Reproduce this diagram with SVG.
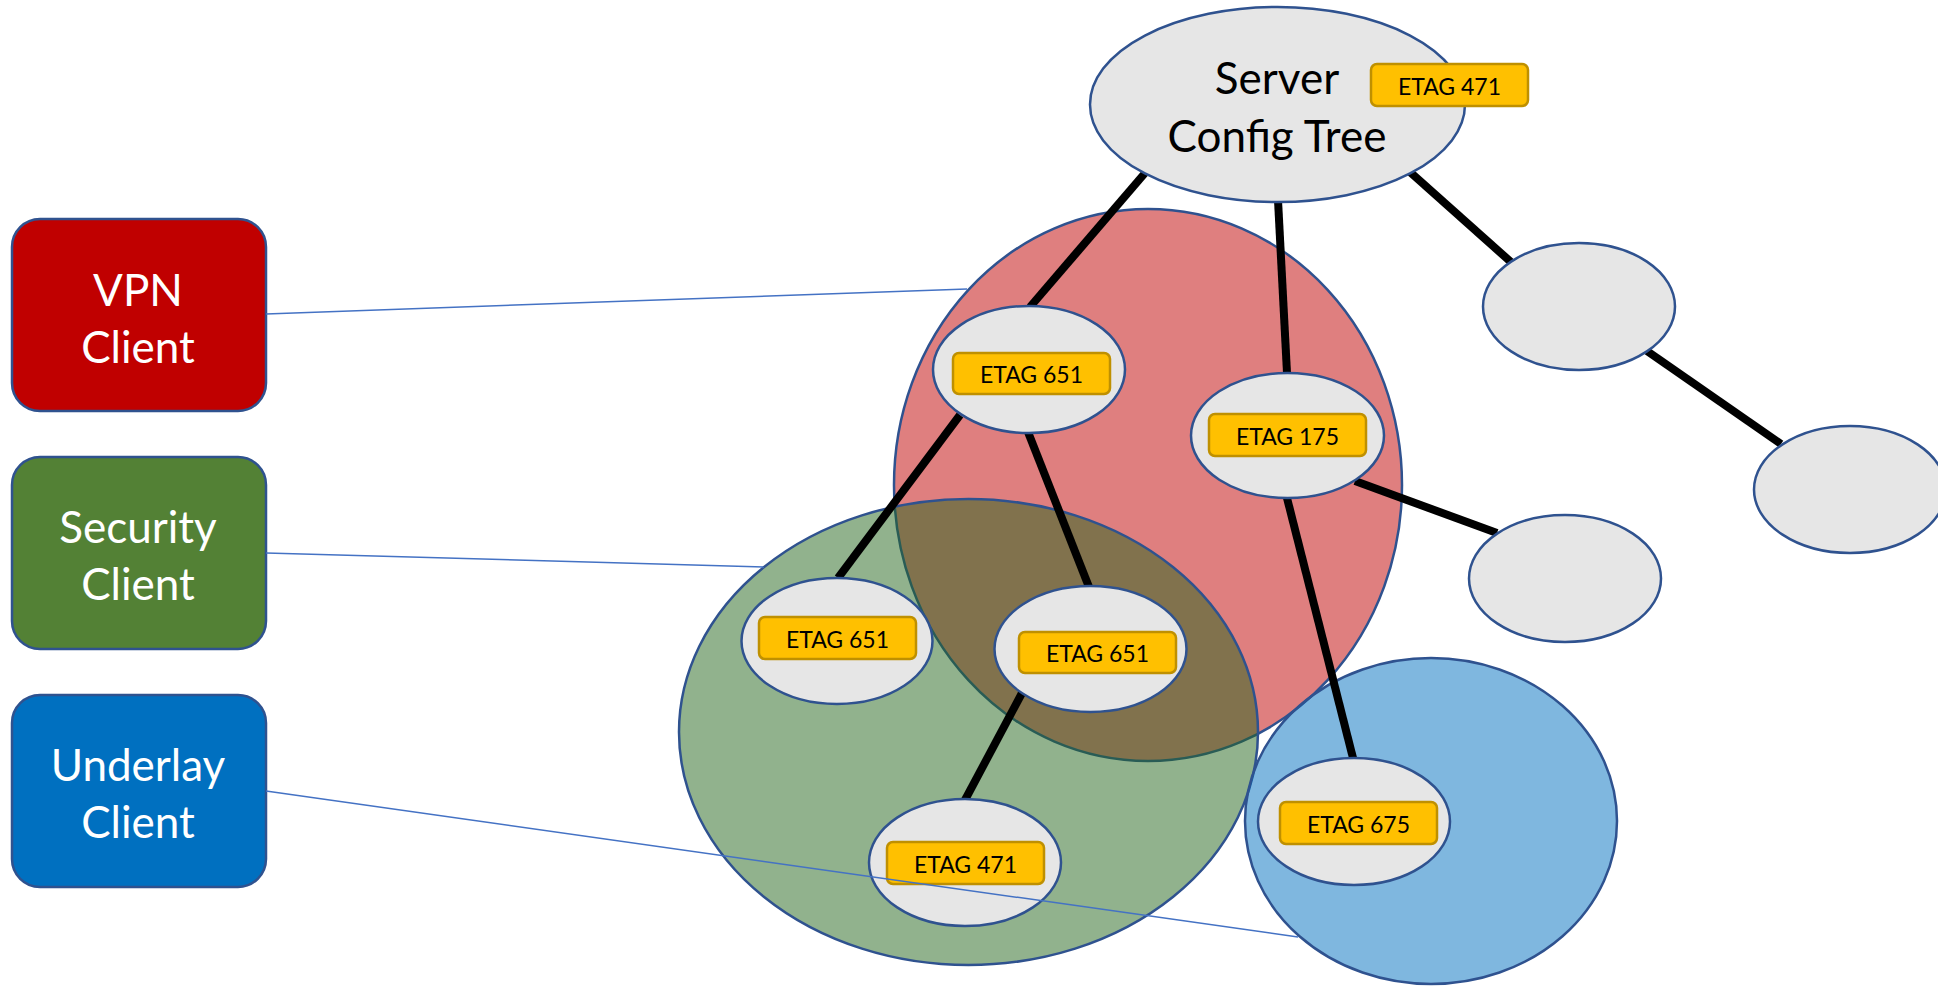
<svg xmlns="http://www.w3.org/2000/svg" width="1938" height="986" viewBox="0 0 1938 986">
<style>
.blob{stroke:#2F528F;stroke-width:2.5}
.node{fill:#E6E6E6;stroke:#2F528F;stroke-width:2.5}
.tag{fill:#FFC000;stroke:#BF9000;stroke-width:2.5}
.tagt{font-family:Lato,"Liberation Sans",sans-serif;font-size:23px;fill:#000;text-anchor:middle}
.big{font-family:Lato,"Liberation Sans",sans-serif;font-size:44px;text-anchor:middle}
.edge{stroke:#000;stroke-width:8;fill:none}
.link{stroke:#4472C4;stroke-width:1.5;fill:none}
.client{stroke:#2F528F;stroke-width:2.5}
</style>
<rect width="1938" height="986" fill="#FFFFFF"/>
<g id="groups">
<ellipse id="vpn-scope" class="blob" cx="1148" cy="485" rx="254" ry="276" fill="#C00000" fill-opacity="0.5"/>
<ellipse id="security-scope" class="blob" cx="968.5" cy="732" rx="289.5" ry="233" fill="#24651B" fill-opacity="0.5"/>
<ellipse id="underlay-scope" class="blob" cx="1431" cy="821" rx="186" ry="163" fill="#0070C0" fill-opacity="0.5"/>
</g>
<g id="connectors">
<line class="edge" x1="1145" y1="173" x2="1030" y2="307"/>
<line class="edge" x1="1278" y1="200" x2="1287" y2="373"/>
<line class="edge" x1="1410" y1="172" x2="1512" y2="263"/>
<line class="edge" x1="1647" y1="351" x2="1781" y2="444"/>
<line class="edge" x1="1355" y1="481" x2="1497" y2="533"/>
<line class="edge" x1="1287" y1="498" x2="1353" y2="758"/>
<line class="edge" x1="960" y1="415" x2="838" y2="578"/>
<line class="edge" x1="1028" y1="432" x2="1089" y2="587"/>
<line class="edge" x1="1022" y1="693" x2="965" y2="800"/>
</g>
<g id="server">
<ellipse class="node" cx="1277.5" cy="104.5" rx="187.5" ry="97.5"/>
<text class="big" x="1277" y="94" fill="#000">Server</text>
<text class="big" x="1277" y="152" fill="#000">Config Tree</text>
<rect class="tag" x="1371" y="64" width="157" height="42" rx="6"/>
<text class="tagt" x="1449.5" y="95">ETAG 471</text>
</g>
<g id="node-651-a">
<ellipse class="node" cx="1029" cy="369.5" rx="96" ry="63.5"/>
<rect class="tag" x="953" y="353" width="157" height="41" rx="6"/>
<text class="tagt" x="1031.5" y="383">ETAG 651</text>
</g>
<g id="node-175">
<ellipse class="node" cx="1287.5" cy="435.5" rx="96.5" ry="62.5"/>
<rect class="tag" x="1209" y="414" width="157" height="42" rx="6"/>
<text class="tagt" x="1287.5" y="445">ETAG 175</text>
</g>
<g id="node-r1">
<ellipse class="node" cx="1579" cy="306.5" rx="96" ry="63.5"/>
</g>
<g id="node-r2">
<ellipse class="node" cx="1850" cy="489.5" rx="96" ry="63.5"/>
</g>
<g id="node-r3">
<ellipse class="node" cx="1565" cy="578.5" rx="96" ry="63.5"/>
</g>
<g id="node-651-b">
<ellipse class="node" cx="837" cy="641" rx="95.5" ry="63"/>
<rect class="tag" x="759" y="617" width="157" height="42" rx="6"/>
<text class="tagt" x="837.5" y="648">ETAG 651</text>
</g>
<g id="node-651-c">
<ellipse class="node" cx="1090.5" cy="649" rx="96" ry="63"/>
<rect class="tag" x="1019" y="632" width="157" height="41" rx="6"/>
<text class="tagt" x="1097.5" y="662">ETAG 651</text>
</g>
<g id="node-471">
<ellipse class="node" cx="965" cy="862.5" rx="96" ry="63.5"/>
<rect class="tag" x="887" y="842" width="157" height="42" rx="6"/>
<text class="tagt" x="965.5" y="873">ETAG 471</text>
</g>
<g id="node-675">
<ellipse class="node" cx="1354" cy="821.5" rx="96" ry="63.5"/>
<rect class="tag" x="1280" y="802" width="157" height="42" rx="6"/>
<text class="tagt" x="1358.5" y="833">ETAG 675</text>
</g>
<g id="vpn-client">
<rect class="client" x="12" y="219" width="254" height="192" rx="28" fill="#C00000"/>
<text class="big" x="138" y="306" fill="#FFFFFF">VPN</text>
<text class="big" x="138" y="363" fill="#FFFFFF">Client</text>
</g>
<g id="security-client">
<rect class="client" x="12" y="457" width="254" height="192" rx="28" fill="#538135"/>
<text class="big" x="138" y="543" fill="#FFFFFF">Security</text>
<text class="big" x="138" y="600" fill="#FFFFFF">Client</text>
</g>
<g id="underlay-client">
<rect class="client" x="12" y="695" width="254" height="192" rx="28" fill="#0070C0"/>
<text class="big" x="138" y="781" fill="#FFFFFF">Underlay</text>
<text class="big" x="138" y="838" fill="#FFFFFF">Client</text>
</g>
<g id="client-links">
<line class="link" x1="266" y1="314" x2="967" y2="289"/>
<line class="link" x1="266" y1="553" x2="764" y2="567"/>
<line class="link" x1="266" y1="791" x2="1298" y2="937"/>
</g>
</svg>
